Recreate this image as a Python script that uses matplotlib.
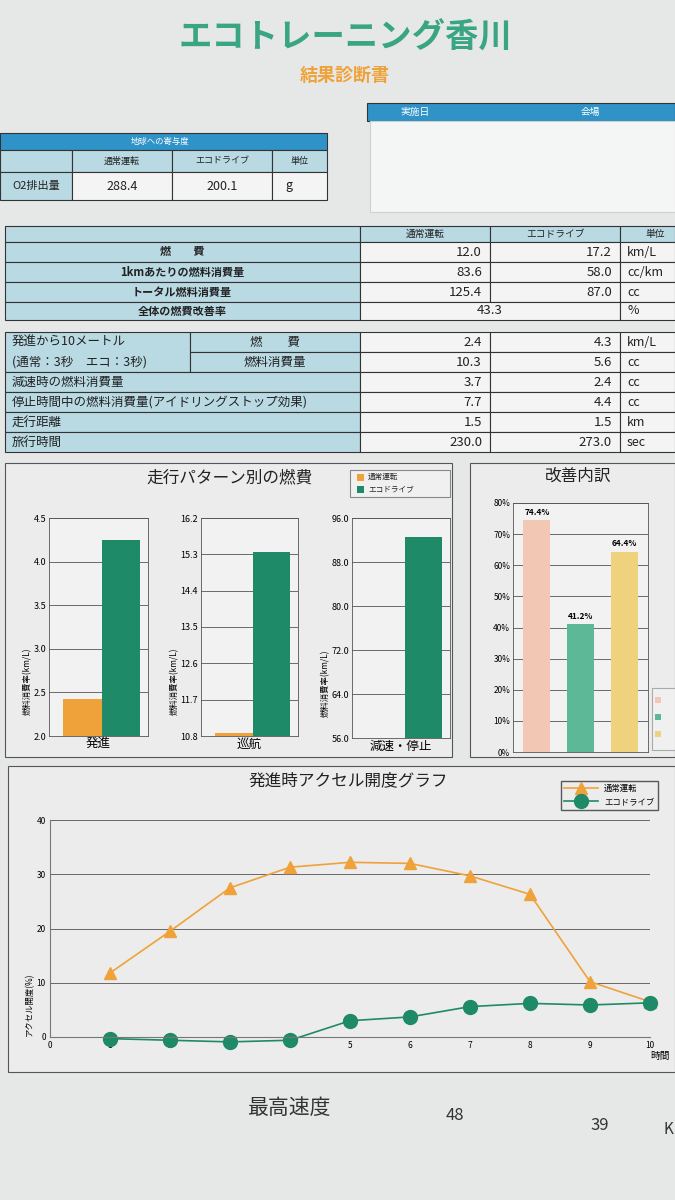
import matplotlib
matplotlib.use("Agg")
import matplotlib.pyplot as plt
from matplotlib.patches import Rectangle
import numpy as np

plt.rcParams['font.family'] = ['Noto Sans CJK JP', 'DejaVu Sans']

# ---------------- data ----------------
co2_cols = ["通常運転", "エコドライブ", "単位"]
co2_vals = ["288.4", "200.1", "g"]
t1_labels = ["燃　　費", "1kmあたりの燃料消費量", "トータル燃料消費量"]
t1_normal = ["12.0", "83.6", "125.4"]
t1_eco = ["17.2", "58.0", "87.0"]
t1_units = ["km/L", "cc/km", "cc"]
overall_rate = "43.3"
t2_labels = ["燃　　費", "燃料消費量", "減速時の燃料消費量", "停止時間中の燃料消費量(アイドリングストップ効果)", "走行距離", "旅行時間"]
t2_normal = ["2.4", "10.3", "3.7", "7.7", "1.5", "230.0"]
t2_eco = ["4.3", "5.6", "2.4", "4.4", "1.5", "273.0"]
t2_units = ["km/L", "cc", "cc", "cc", "km", "sec"]

patterns = ["発進", "巡航", "減速・停止"]
pat_normal = [2.43, 10.88, 55.9]
pat_eco = [4.25, 15.35, 92.5]
pat_ylims = [(2.0, 4.5), (10.8, 16.2), (56.0, 96.0)]
pat_ticks = [[2.0, 2.5, 3.0, 3.5, 4.0, 4.5], [10.8, 11.7, 12.6, 13.5, 14.4, 15.3, 16.2],
             [56.0, 64.0, 72.0, 80.0, 88.0, 96.0]]

improve_vals = [74.4, 41.2, 64.4]

accel_t = [1, 2, 3, 4, 5, 6, 7, 8, 9, 10]
accel_normal = [11.8, 19.5, 27.5, 31.3, 32.2, 32.0, 29.7, 26.3, 10.2, 6.5]
accel_eco = [-0.3, -0.6, -0.9, -0.6, 3.0, 3.7, 5.6, 6.2, 5.9, 6.3]

# ---------------- style ----------------
PAPER = "#e6e8e7"
BLUE = "#2f93c8"
LBLUE = "#b9d9e3"
WHITE = "#f3f4f3"
ORANGE = "#f0a23a"
GREEN = "#1f8a68"
TXT = "#222222"

W, H = 675, 1200
fig = plt.figure(figsize=(6.75, 12), dpi=100, facecolor=PAPER)
bg = fig.add_axes([0, 0, 1, 1])
bg.set_xlim(0, W); bg.set_ylim(H, 0); bg.axis("off")

def rect(x0, y0, x1, y1, fc, ec="#333333", lw=0.8):
    bg.add_patch(Rectangle((x0, y0), x1 - x0, y1 - y0, facecolor=fc, edgecolor=ec, lw=lw))

def txt(x, y, s, size=9, ha="center", color=TXT, **kw):
    bg.text(x, y, s, fontsize=size, ha=ha, va="center", color=color, **kw)

def axrect(x0, y0, x1, y1):
    return [x0 / W, 1 - y1 / H, (x1 - x0) / W, (y1 - y0) / H]

# titles
txt(345, 38, "エコトレーニング香川", size=24, color="#3aa583", weight="bold")
txt(345, 75, "結果診断書", size=13, color="#f0a23a", weight="bold")

# CO2 table
rect(0, 133, 327, 150, BLUE)
txt(160, 141, "地球への寄与度", size=6, color="white")
xs = [0, 72, 172, 272, 327]
for i in range(4):
    rect(xs[i], 150, xs[i + 1], 172, LBLUE)
    if i > 0:
        txt((xs[i] + xs[i + 1]) / 2, 161, co2_cols[i - 1], size=6.5)
rect(0, 172, 72, 200, LBLUE)
txt(36, 186, "O2排出量", size=8)
for i in range(3):
    rect(xs[i + 1], 172, xs[i + 2], 200, WHITE)
txt(122, 186, co2_vals[0], size=9); txt(222, 186, co2_vals[1], size=9); txt(285, 186, co2_vals[2], size=9, ha="left")

# date/venue box
rect(367, 103, 675, 121, BLUE)
txt(415, 112, "実施日", size=7, color="white"); txt(590, 112, "会場", size=7, color="white")
rect(370, 121, 675, 212, "#f4f5f5", ec="#d0d0d0")

# main table 1
cx = [5, 360, 490, 620, 675]
rect(5, 226, 360, 242, LBLUE)
for i in range(1, 4):
    rect(cx[i], 226, cx[i + 1], 242, LBLUE)
txt(425, 234, "通常運転", size=7); txt(555, 234, "エコドライブ", size=7); txt(655, 234, "単位", size=7)
for r in range(3):
    y0 = 242 + r * 20
    rect(5, y0, 360, y0 + 20, LBLUE)
    txt(182, y0 + 10, t1_labels[r], size=8, weight="bold")
    rect(360, y0, 490, y0 + 20, WHITE); rect(490, y0, 620, y0 + 20, WHITE); rect(620, y0, 675, y0 + 20, WHITE)
    txt(482, y0 + 10, t1_normal[r], size=9.5, ha="right")
    txt(612, y0 + 10, t1_eco[r], size=9.5, ha="right")
    txt(627, y0 + 10, t1_units[r], size=9, ha="left")
rect(5, 302, 360, 320, LBLUE)
txt(182, 311, "全体の燃費改善率", size=8, weight="bold")
rect(360, 302, 620, 320, WHITE); rect(620, 302, 675, 320, WHITE)
txt(490, 311, overall_rate, size=9.5); txt(627, 311, "%", size=9, ha="left")

# main table 2
rect(5, 332, 190, 372, LBLUE)
txt(12, 342, "発進から10メートル", size=9, ha="left")
txt(12, 362, "(通常：3秒　エコ：3秒)", size=9, ha="left")
for r in range(6):
    y0 = 332 + r * 20
    if r < 2:
        rect(190, y0, 360, y0 + 20, LBLUE)
        txt(275, y0 + 10, t2_labels[r], size=9)
    else:
        rect(5, y0, 360, y0 + 20, LBLUE)
        txt(12, y0 + 10, t2_labels[r], size=9, ha="left")
    rect(360, y0, 490, y0 + 20, WHITE); rect(490, y0, 620, y0 + 20, WHITE); rect(620, y0, 675, y0 + 20, WHITE)
    txt(482, y0 + 10, t2_normal[r], size=9.5, ha="right")
    txt(612, y0 + 10, t2_eco[r], size=9.5, ha="right")
    txt(627, y0 + 10, t2_units[r], size=9, ha="left")

# panel boxes
rect(5, 463, 452, 757, "#ebeceb", ec="#555555")
rect(470, 463, 675, 757, "#ebeceb", ec="#555555")
rect(8, 766, 675, 1072, "#ebeceb", ec="#555555")
txt(230, 478, "走行パターン別の燃費", size=12)
txt(578, 476, "改善内訳", size=12)
txt(348, 781, "発進時アクセル開度グラフ", size=12)

# pattern legend
rect(350, 470, 450, 497, "#f0f0f0", ec="#888888")
rect(357, 474, 364, 481, ORANGE, ec="none")
txt(368, 477, "通常運転", size=5.5, ha="left")
rect(357, 486, 364, 493, GREEN, ec="none")
txt(368, 489, "エコドライブ", size=5.5, ha="left")

# pattern charts
pos = [(49, 518, 148, 736), (201, 518, 298, 736), (352, 518, 450, 738)]
for i in range(3):
    ax = fig.add_axes(axrect(*pos[i]))
    ax.set_facecolor("#f1f2f1")
    lo, hi = pat_ylims[i]
    ax.bar([0], [pat_normal[i] - lo], bottom=lo, width=1.0, align="edge", color=ORANGE, clip_on=True)
    ax.bar([1], [pat_eco[i] - lo], bottom=lo, width=0.95, align="edge", color=GREEN)
    ax.set_xlim(-0.35, 2.15)
    ax.set_ylim(lo, hi)
    ax.set_yticks(pat_ticks[i])
    ax.set_yticklabels([f"{t:.1f}" for t in pat_ticks[i]], fontsize=6.5)
    ax.set_xticks([])
    ax.set_xlabel(patterns[i], fontsize=9, labelpad=1)
    ax.set_ylabel("燃料消費率(km/L)", fontsize=6, labelpad=1, y=0.25)
    ax.grid(axis="y", color="#555555", lw=0.6)
    ax.set_axisbelow(True)
    ax.tick_params(length=0, pad=2)
    for s in ax.spines.values():
        s.set_color("#555555"); s.set_linewidth(0.6)

# improvement chart
ax = fig.add_axes(axrect(513, 503, 648, 752))
ax.set_facecolor("#f1f2f1")
cols = ["#f2c8b4", "#5cb896", "#eed27e"]
bars = ax.bar([0, 1, 2], improve_vals, width=0.62, color=cols)
for b, v in zip(bars, improve_vals):
    ax.text(b.get_x() + b.get_width() / 2, v + 1, f"{v:.1f}%", ha="center", va="bottom", fontsize=6, weight="bold")
ax.set_ylim(0, 80); ax.set_xlim(-0.55, 2.55)
ax.set_yticks(range(0, 81, 10))
ax.set_yticklabels([f"{t}%" for t in range(0, 81, 10)], fontsize=6)
ax.set_xticks([])
ax.grid(axis="y", color="#555555", lw=0.6); ax.set_axisbelow(True)
ax.tick_params(length=0, pad=2)
for s in ax.spines.values():
    s.set_color("#555555"); s.set_linewidth(0.6)
rect(652, 688, 675, 750, "#f0f0f0", ec="#aaaaaa")
for j, c in enumerate(cols):
    rect(655, 697 + j * 17, 661, 703 + j * 17, c, ec="none")

# accel chart
ax = fig.add_axes(axrect(50, 820, 650, 1037))
ax.set_facecolor("#ebeceb")
ax.plot(accel_t, accel_normal, color=ORANGE, lw=1.2, marker="^", ms=8, label="通常運転", clip_on=False)
ax.plot(accel_t, accel_eco, color=GREEN, lw=1.2, marker="o", ms=10, label="エコドライブ", clip_on=False)
ax.set_xlim(0, 10); ax.set_ylim(0, 40)
ax.set_xticks(range(0, 11)); ax.set_yticks(range(0, 41, 10))
ax.tick_params(labelsize=6, length=0, pad=3)
ax.grid(axis="y", color="#666666", lw=0.7)
ax.set_ylabel("アクセル開度(%)", fontsize=6, y=0.15, labelpad=2)
for k in ["top", "right"]:
    ax.spines[k].set_visible(False)
for k in ["left", "bottom"]:
    ax.spines[k].set_color("#777777")
ax.text(1.0, -0.1, "時間", transform=ax.transAxes, fontsize=7, ha="left")
leg = ax.legend(loc="upper right", bbox_to_anchor=(1.02, 1.2), fontsize=6, frameon=True,
                fancybox=False, edgecolor="#333333", facecolor="#ebeceb", handlelength=4)

# handwriting
txt(290, 1108, "最高速度", size=15, color="#333333")
txt(455, 1115, "48", size=12, color="#333333")
txt(600, 1125, "39", size=12, color="#333333")
txt(668, 1130, "K", size=11, color="#333333")

fig.savefig("out.png", dpi=100, facecolor=PAPER)
